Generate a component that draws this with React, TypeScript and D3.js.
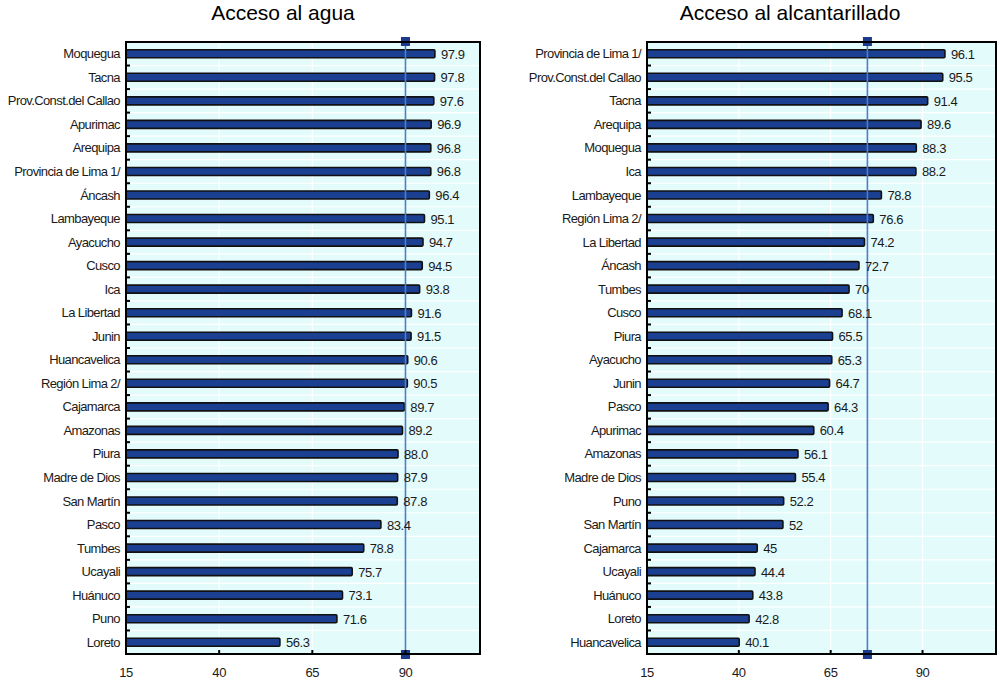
import React from "react";
import * as d3 from "d3";

const waterCategories = [
  "Moquegua", "Tacna", "Prov.Const.del Callao", "Apurimac", "Arequipa",
  "Provincia de Lima 1/", "Áncash", "Lambayeque", "Ayacucho", "Cusco", "Ica",
  "La Libertad", "Junin", "Huancavelica", "Región Lima 2/", "Cajamarca",
  "Amazonas", "Piura", "Madre de Dios", "San Martín", "Pasco", "Tumbes",
  "Ucayali", "Huánuco", "Puno", "Loreto",
];
const waterValues = [
  97.9, 97.8, 97.6, 96.9, 96.8, 96.8, 96.4, 95.1, 94.7, 94.5, 93.8, 91.6, 91.5,
  90.6, 90.5, 89.7, 89.2, 88.0, 87.9, 87.8, 83.4, 78.8, 75.7, 73.1, 71.6, 56.3,
];
const waterLabels = [
  "97.9", "97.8", "97.6", "96.9", "96.8", "96.8", "96.4", "95.1", "94.7", "94.5",
  "93.8", "91.6", "91.5", "90.6", "90.5", "89.7", "89.2", "88.0", "87.9", "87.8",
  "83.4", "78.8", "75.7", "73.1", "71.6", "56.3",
];
const waterReference = 90;

const sewerCategories = [
  "Provincia de Lima 1/", "Prov.Const.del Callao", "Tacna", "Arequipa",
  "Moquegua", "Ica", "Lambayeque", "Región Lima 2/", "La Libertad", "Áncash",
  "Tumbes", "Cusco", "Piura", "Ayacucho", "Junin", "Pasco", "Apurimac",
  "Amazonas", "Madre de Dios", "Puno", "San Martín", "Cajamarca", "Ucayali",
  "Huánuco", "Loreto", "Huancavelica",
];
const sewerValues = [
  96.1, 95.5, 91.4, 89.6, 88.3, 88.2, 78.8, 76.6, 74.2, 72.7, 70, 68.1, 65.5,
  65.3, 64.7, 64.3, 60.4, 56.1, 55.4, 52.2, 52, 45, 44.4, 43.8, 42.8, 40.1,
];
const sewerLabels = [
  "96.1", "95.5", "91.4", "89.6", "88.3", "88.2", "78.8", "76.6", "74.2", "72.7",
  "70", "68.1", "65.5", "65.3", "64.7", "64.3", "60.4", "56.1", "55.4", "52.2",
  "52", "45", "44.4", "43.8", "42.8", "40.1",
];
const sewerReference = 75;

const xTicks = [15, 40, 65, 90];
const xDomain: [number, number] = [15, 110];

const FONT = "Liberation Sans, Arial, sans-serif";
const BG = "#e4fbfb";
const BAR = "#1b3f91";
const REF = "#4a7fcf";
const MARK = "#1b3a8c";

type PanelProps = {
  title: string;
  categories: string[];
  values: number[];
  labels: string[];
  reference: number;
  left: number;
  right: number;
  titleX: number;
};

function Panel({ title, categories, values, labels, reference, left, right, titleX }: PanelProps) {
  const top = 42;
  const bottom = 654;
  const x = d3.scaleLinear().domain(xDomain).range([left, right]);
  const y = d3.scaleBand().domain(categories).range([top, bottom]).paddingInner(0).paddingOuter(0);
  const bw = y.bandwidth();
  const barH = 8;
  const boundaries = d3.range(1, categories.length).map((i) => top + i * bw);
  const refX = x(reference);
  return (
    <g>
      <text x={titleX} y={20} textAnchor="middle" fontFamily={FONT} fontSize={21} fill="#000">
        {title}
      </text>
      <rect x={left} y={top} width={right - left} height={bottom - top} fill={BG} />
      {boundaries.map((b, i) => (
        <line key={"h" + i} x1={left} x2={right} y1={b} y2={b} stroke="#fff" strokeWidth={1.2} />
      ))}
      {xTicks.slice(1).map((t) => (
        <line key={"v" + t} x1={x(t)} x2={x(t)} y1={top} y2={bottom} stroke="#fff" strokeWidth={1.2} />
      ))}
      {categories.map((c, i) => {
        const cy = (y(c) as number) + bw / 2;
        return (
          <rect
            key={"b" + c}
            x={x(15)}
            y={cy - barH / 2}
            width={x(values[i]) - x(15)}
            height={barH}
            fill={BAR}
            stroke="#111"
            strokeWidth={1.6}
            rx={1}
          />
        );
      })}
      <line x1={refX} x2={refX} y1={top} y2={bottom} stroke={REF} strokeWidth={1.6} />
      <rect x={refX - 4.5} y={top - 5} width={9} height={9} fill={MARK} />
      <rect x={refX - 4.5} y={bottom - 4} width={9} height={9} fill={MARK} />
      {categories.map((c, i) => {
        const cy = (y(c) as number) + bw / 2;
        return (
          <text
            key={"l" + c}
            x={x(values[i]) + 6}
            y={cy + 5}
            fontFamily={FONT}
            fontSize={13}
            fill="#1a1a1a"
            letterSpacing={-0.4}
          >
            {labels[i]}
          </text>
        );
      })}
      {categories.map((c) => {
        const cy = (y(c) as number) + bw / 2;
        return (
          <text
            key={"c" + c}
            x={left - 6}
            y={cy + 4.5}
            textAnchor="end"
            fontFamily={FONT}
            fontSize={13}
            fill="#1a1a1a"
            letterSpacing={-0.6}
          >
            {c}
          </text>
        );
      })}
      {boundaries.map((b, i) => (
        <line key={"t" + i} x1={left} x2={left + 4} y1={b} y2={b} stroke="#000" strokeWidth={2} />
      ))}
      {xTicks.slice(1).map((t) => (
        <line key={"xt" + t} x1={x(t)} x2={x(t)} y1={bottom} y2={bottom - 4} stroke="#000" strokeWidth={2} />
      ))}
      <rect x={left} y={top} width={right - left} height={bottom - top} fill="none" stroke="#000" strokeWidth={2} />
      {xTicks.map((t) => (
        <text
          key={"xl" + t}
          x={x(t)}
          y={677}
          textAnchor="middle"
          fontFamily={FONT}
          fontSize={13}
          fill="#1a1a1a"
          letterSpacing={-0.4}
        >
          {t}
        </text>
      ))}
    </g>
  );
}

export default function App() {
  return (
    <svg
      width={1000}
      height={680}
      style={{ position: "absolute", left: 0, top: 0, background: "#fff" }}
    >
      <rect width={1000} height={680} fill="#fff" />
      <Panel
        title="Acceso al agua"
        categories={waterCategories}
        values={waterValues}
        labels={waterLabels}
        reference={waterReference}
        left={126}
        right={480}
        titleX={283}
      />
      <Panel
        title="Acceso al alcantarillado"
        categories={sewerCategories}
        values={sewerValues}
        labels={sewerLabels}
        reference={sewerReference}
        left={647}
        right={996}
        titleX={790}
      />
    </svg>
  );
}
